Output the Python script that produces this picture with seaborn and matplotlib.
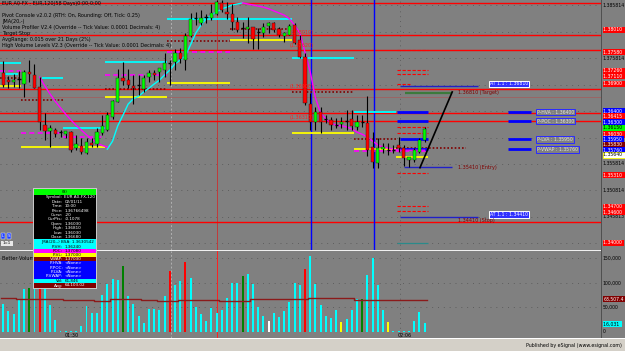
import matplotlib
matplotlib.use("Agg")
import matplotlib.pyplot as plt
from matplotlib.patches import Rectangle
from matplotlib.transforms import blended_transform_factory as blend
import seaborn as sns
import pandas as pd

plt.rcParams['font.family'] = ['Liberation Sans Narrow', 'DejaVu Sans']

# ---------------- candles (2-minute bars) ----------------
opens = [1.3719, 1.3705, 1.3702, 1.3707, 1.3698, 1.3721, 1.3715, 1.3692, 1.3620, 1.3609,
         1.3611, 1.3607, 1.3603, 1.3607, 1.3577, 1.3581, 1.3567, 1.3586, 1.3584, 1.3605,
         1.3611, 1.3636, 1.3664, 1.3709, 1.3705, 1.3694, 1.3696, 1.3688, 1.3711, 1.3719,
         1.3721, 1.3724, 1.3739, 1.3739, 1.3756, 1.3743, 1.3789, 1.3823, 1.3813, 1.3824,
         1.3823, 1.3830, 1.3851, 1.3834, 1.3830, 1.3815, 1.3804, 1.3802, 1.3806, 1.3796,
         1.3794, 1.3808, 1.3813, 1.3802, 1.3789, 1.3791, 1.3809, 1.3781, 1.3749, 1.3660,
         1.3626, 1.3645, 1.3632, 1.3630, 1.3622, 1.3622, 1.3628, 1.3632, 1.3617, 1.3626,
         1.3624, 1.3579, 1.3548, 1.3575, 1.3573, 1.3574, 1.3583, 1.3577, 1.3554, 1.3554,
         1.3569, 1.3592]
highs = [1.3741, 1.3713, 1.3717, 1.3722, 1.3724, 1.3743, 1.3736, 1.3711, 1.3643, 1.3620,
         1.3615, 1.3611, 1.3609, 1.3609, 1.3601, 1.3596, 1.3596, 1.3596, 1.3615, 1.3639,
         1.3645, 1.3668, 1.3726, 1.3739, 1.3726, 1.3715, 1.3715, 1.3715, 1.3724, 1.3724,
         1.3728, 1.3756, 1.3743, 1.3764, 1.3766, 1.3794, 1.3832, 1.3834, 1.3838, 1.3830,
         1.3849, 1.3857, 1.3857, 1.3853, 1.3849, 1.3824, 1.3815, 1.3824, 1.3806, 1.3804,
         1.3813, 1.3815, 1.3815, 1.3806, 1.3796, 1.3811, 1.3813, 1.3791, 1.3756, 1.3681,
         1.3654, 1.3654, 1.3639, 1.3636, 1.3634, 1.3636, 1.3649, 1.3649, 1.3639, 1.3639,
         1.3675, 1.3607, 1.3596, 1.3586, 1.3586, 1.3583, 1.3598, 1.3583, 1.3560, 1.3577,
         1.3596, 1.3617]
lows = [1.3692, 1.3690, 1.3692, 1.3690, 1.3673, 1.3702, 1.3690, 1.3611, 1.3592, 1.3579,
        1.3598, 1.3598, 1.3596, 1.3569, 1.3573, 1.3566, 1.3566, 1.3579, 1.3579, 1.3601,
        1.3609, 1.3632, 1.3664, 1.3696, 1.3690, 1.3660, 1.3677, 1.3683, 1.3702, 1.3705,
        1.3702, 1.3711, 1.3696, 1.3724, 1.3738, 1.3724, 1.3787, 1.3809, 1.3809, 1.3813,
        1.3819, 1.3828, 1.3834, 1.3821, 1.3800, 1.3796, 1.3785, 1.3775, 1.3764, 1.3764,
        1.3787, 1.3794, 1.3796, 1.3787, 1.3777, 1.3791, 1.3774, 1.3747, 1.3658, 1.3611,
        1.3611, 1.3605, 1.3624, 1.3611, 1.3615, 1.3615, 1.3611, 1.3611, 1.3611, 1.3617,
        1.3562, 1.3539, 1.3539, 1.3567, 1.3564, 1.3567, 1.3569, 1.3543, 1.3541, 1.3550,
        1.3567, 1.3588]
closes = [1.3696, 1.3702, 1.3705, 1.3706, 1.3721, 1.3717, 1.3690, 1.3626, 1.3609, 1.3615,
          1.3603, 1.3606, 1.3609, 1.3573, 1.3584, 1.3569, 1.3588, 1.3583, 1.3607, 1.3619,
          1.3639, 1.3666, 1.3709, 1.3704, 1.3696, 1.3690, 1.3697, 1.3709, 1.3719, 1.3715,
          1.3728, 1.3738, 1.3738, 1.3756, 1.3745, 1.3789, 1.3821, 1.3822, 1.3823, 1.3825,
          1.3832, 1.3853, 1.3838, 1.3830, 1.3815, 1.3800, 1.3803, 1.3806, 1.3783, 1.3795,
          1.3806, 1.3813, 1.3800, 1.3791, 1.3794, 1.3808, 1.3775, 1.3749, 1.3662, 1.3626,
          1.3645, 1.3626, 1.3631, 1.3620, 1.3621, 1.3626, 1.3627, 1.3619, 1.3626, 1.3625,
          1.3573, 1.3550, 1.3577, 1.3579, 1.3574, 1.3573, 1.3577, 1.3558, 1.3560, 1.3573,
          1.3592, 1.3613]

volumes = [57000, 42000, 37000, 65000, 88000, 90000, 98000, 91000, 90000, 56000,
           24000, 3000, 3000, 2000, 3000, 13000, 54000, 38000, 39000, 76000,
           98000, 109000, 107000, 134000, 73000, 58000, 33000, 18000, 47000, 46000,
           44000, 73000, 124000, 95000, 105000, 143000, 110000, 51000, 37000, 23000,
           48000, 39000, 44000, 69000, 99000, 99000, 114000, 119000, 97000, 52000,
           33000, 23000, 39000, 30000, 42000, 61000, 99000, 95000, 129000, 156000,
           98000, 56000, 32000, 29000, 44000, 20000, 27000, 44000, 67000, 67000,
           116000, 150000, 95000, 44000, 20000, 3000, 3000, 3000, 3000, 23000,
           41000, 18000]
vol_kind = ['cyan'] * 82
for k, c in [(5, 'green'), (7, 'red'), (23, 'green'), (32, 'red'), (35, 'red'), (46, 'green'),
             (51, 'white'), (58, 'red'), (65, 'yellow'), (69, 'green'), (74, 'yellow')]:
    vol_kind[k] = c
vol_palette = {'cyan': '#00ffff', 'green': '#008000', 'red': '#ff0000',
               'white': '#ffffff', 'yellow': '#ffff00'}

avg_breaks = [-0.5, 2.5, 11.5, 17.5, 20.5, 26.5, 29.5, 33.5, 41.5, 47.5, 58.5, 67.5, 81.5]
avg_levels = [69000, 68000, 65000, 63500, 66500, 65000, 63000, 65500, 64000, 67500, 68500, 66000, 66000]

# ---------------- indicator curves ----------------
cyan_idx = list(range(20, 47))
cyan_vals = [1.3575, 1.3590, 1.3619, 1.3639, 1.3660, 1.3670, 1.3675, 1.3683, 1.3690, 1.3698,
             1.3705, 1.3715, 1.3724, 1.3736, 1.3743, 1.3751, 1.3772, 1.3794, 1.3809, 1.3821,
             1.3828, 1.3834, 1.3840, 1.3843, 1.3847, 1.3849, 1.3851]
mag1_idx = list(range(7, 21))
mag1_vals = [1.3711, 1.3694, 1.3679, 1.3665, 1.3653, 1.3641, 1.3630, 1.3620, 1.3611, 1.3602,
             1.3594, 1.3587, 1.3582, 1.3579]
mag2_idx = list(range(46, 82))
mag2_vals = [1.3851, 1.3849, 1.3847, 1.3845, 1.3843, 1.3840, 1.3836, 1.3832, 1.3828, 1.3821,
             1.3809, 1.3794, 1.3758, 1.3721, 1.3672, 1.3643, 1.3632, 1.3624, 1.3620, 1.3619,
             1.3617, 1.3613, 1.3607, 1.3603, 1.3598, 1.3590, 1.3583, 1.3579, 1.3577, 1.3575,
             1.3573, 1.3573, 1.3573, 1.3573, 1.3573, 1.3573]

# ---------------- level lines ----------------
red_levels = [1.3851, 1.3790, 1.3762, 1.3689, 1.3643, 1.3628, 1.3438]
faint_levels = [1.3673]
seg_x0 = [-0.6, 0.0, 7.4, 11.5, 19.5, 31.5, 55.5, 67.5,
          -0.6, 3.5, 19.5, 31.5, 43.5, 55.5, 67.5, 75.5,
          -0.6, 3.5, 11.5, 19.5, 31.5, 67.5,
          -0.6, 3.5, 19.5, 31.5, 43.5, 55.5, 67.5, 75.5,
          75.7, 75.7, 76.3, 76.3, 97.1, 97.1, 97.1, 97.1,
          75.7, 75.7, 75.7, 75.7, 75.7, 75.7, 75.7, 75.7, 75.7, 75.7,
          77.3, 77.1, 76.3, 76.3]
seg_x1 = [3.5, 2.8, 11.5, 19.5, 31.5, 55.5, 67.5, 75.5,
          3.5, 19.5, 31.5, 43.5, 55.5, 67.5, 75.5, 81.7,
          3.5, 11.5, 19.5, 31.5, 43.5, 81.7,
          3.5, 11.5, 31.5, 43.5, 55.5, 67.5, 75.5, 89.0,
          81.7, 81.7, 81.7, 81.7, 101.5, 101.5, 101.5, 101.5,
          81.7, 81.7, 81.7, 78.2, 81.7, 81.7, 81.7, 81.7, 81.7, 81.7,
          86.3, 86.3, 91.3, 91.3]
seg_price = [1.3738, 1.3717, 1.3709, 1.3615, 1.3740, 1.3821, 1.3747, 1.3645,
             1.3694, 1.3579, 1.3673, 1.3700, 1.3781, 1.3606, 1.3575, 1.3560,
             1.3723, 1.3606, 1.3598, 1.3715, 1.3758, 1.3572,
             1.3709, 1.3668, 1.3689, 1.3779, 1.3802, 1.3683, 1.3594, 1.3577,
             1.3645, 1.3628, 1.3594, 1.3575, 1.3645, 1.3628, 1.3594, 1.3575,
             1.3762, 1.3724, 1.3717, 1.3698, 1.3617, 1.3606, 1.3530, 1.3468, 1.3458, 1.3398,
             1.3681, 1.3541, 1.3694, 1.3447]
seg_kind = ['cyan'] * 8 + ['yellow'] * 8 + ['mag'] * 6 + ['dot'] * 8 + ['blue'] * 8 + \
           ['rdash'] * 9 + ['teal'] + ['target', 'entry', 'entry', 'entry']
seg_style = {
    'cyan': dict(color='#00ffff', lw=1.3, ls='-'),
    'yellow': dict(color='#ffff00', lw=1.3, ls='-'),
    'mag': dict(color='#ff00ff', lw=1.2, ls=(0, (3, 2))),
    'dot': dict(color='#800000', lw=1.2, ls=(0, (1, 1.2))),
    'blue': dict(color='#0000ff', lw=2.0, ls='-'),
    'rdash': dict(color='#ff0000', lw=0.8, ls=(0, (3, 1.5))),
    'teal': dict(color='#2a8a8a', lw=0.9, ls='-'),
    'target': dict(color='#3c7a3c', lw=1.6, ls='-'),
    'entry': dict(color='#2020c8', lw=1.0, ls='-'),
}

grid_prices = [1.3847, 1.3797, 1.3747, 1.3697, 1.3647, 1.3597, 1.3547, 1.3497, 1.3447, 1.3397]
axis_label_prices = [1.3847, 1.3747, 1.3547, 1.3497, 1.3447]
axis_label_texts = ['1.385814', '1.375814', '1.355814', '1.350814', '1.345813']

tag_prices = [1.3800, 1.3758, 1.3723, 1.3713, 1.3698, 1.3647, 1.3637, 1.3626, 1.3615, 1.3603,
              1.3594, 1.3583, 1.3573, 1.3564, 1.3526, 1.3466, 1.3456, 1.3398]
tag_texts = ['1.38010', '1.37580', '1.37260', '1.37110', '1.36900', '1.36400', '1.36415', '1.36300',
             '1.36150', '1.36030', '1.35950', '1.35830', '1.35760', '1.35640', '1.35310', '1.34700',
             '1.34600', '1.34000']
tag_colors = ['#ff0000', '#ff0000', '#ff0000', '#ff0000', '#ff0000', '#0000ff', '#ff0000', '#0000ff',
              '#00ff00', '#ff0000', '#0000ff', '#800000', '#0000ff', '#ffffff', '#ff0000', '#ff0000',
              '#ff0000', '#ff0000']

pv_prices = [1.3645, 1.3628, 1.3594, 1.3575]
pv_texts = ['P-HVA : 1.36400', 'P-POC : 1.36300', 'P-LVA : 1.35950', 'P-VWAP : 1.35760']
trade_prices = [1.3681, 1.3541, 1.3441]
trade_texts = ['1.36810 (Target)', '1.35410 (Entry)', '1.34410 (Stop)']
pivot_note_prices = [1.3796, 1.3770, 1.3694, 1.3634]
pivot_note_texts = ['(1.38010)', '(1.37620)', '(1.36900)', '(1.36310)']

diag_idx = [80.1, 86.3]
diag_vals = [1.3540, 1.3683]

# ---------------- figure ----------------
W, H = 625, 351
BG = '#808080'
FS = 3.5
fig = plt.figure(figsize=(W / 100, H / 100), dpi=100)
fig.patch.set_facecolor(BG)
XL, XR = -0.63, 114.9

ax = fig.add_axes([0, 1 - 250 / H, 601 / W, 250 / H])
axv = fig.add_axes([0, 1 - 338 / H, 601 / W, (338 - 251) / H])


def prect(x0, y0, x1, y1, fc, ec='none', lw=0.0, z=5):
    fig.add_artist(Rectangle((x0 / W, 1 - y1 / H), (x1 - x0) / W, (y1 - y0) / H,
                             transform=fig.transFigure, fc=fc, ec=ec, lw=lw, zorder=z))


def ptext(x, y, s, color='black', size=FS, ha='left', z=8, weight='normal'):
    fig.text(x / W, 1 - y / H, s, color=color, fontsize=size, ha=ha, va='center',
             zorder=z, fontweight=weight)


# ---- main price panel ----
ax.set_facecolor(BG)
for gp in grid_prices:
    ax.axhline(gp, color='#5e5e5e', lw=0.7, ls=(0, (1, 5)), zorder=0.5)
for lv in red_levels:
    ax.axhline(lv, color='#ff0000', lw=1.0, zorder=1)
for lv in faint_levels:
    ax.axhline(lv, color='#a06060', lw=0.6, zorder=1)
ax.axvline(32.25, color='#b0b0b0', lw=0.7, ls=(0, (2, 2)), zorder=0.6)
ax.axvline(76.3, color='#5e5e5e', lw=0.7, ls=(0, (1, 4)), zorder=0.6)
ax.axvline(41.1, color='#c03a3a', lw=0.7, zorder=0.7)
for vx in (59.2, 71.3):
    ax.axvline(vx, color='#0000ff', lw=1.0, zorder=1.2)

for x0, x1, p, k in zip(seg_x0, seg_x1, seg_price, seg_kind):
    st = seg_style[k]
    ax.hlines(p, x0, x1, colors=st['color'], lw=st['lw'], linestyles=[st['ls']], zorder=2)

sns.lineplot(x=cyan_idx, y=cyan_vals, ax=ax, color='#00ffff', lw=1.0, zorder=3)
sns.lineplot(x=mag1_idx, y=mag1_vals, ax=ax, color='#ff00ff', lw=1.0, zorder=3)
sns.lineplot(x=mag2_idx, y=mag2_vals, ax=ax, color='#ff00ff', lw=1.0, zorder=3)
sns.lineplot(x=diag_idx, y=diag_vals, ax=ax, color='black', lw=1.2, zorder=3)

for i in range(len(opens)):
    o, hi, lo, c = opens[i], highs[i], lows[i], closes[i]
    ax.vlines(i, lo, hi, color='black', lw=0.8, zorder=4)
    if abs(c - o) < 0.00015:
        ax.hlines((o + c) / 2, i - 0.32, i + 0.32, color='black', lw=1.0, zorder=5)
    else:
        col = '#00ff00' if c > o else '#ff0000'
        ax.bar(i, abs(c - o), bottom=min(o, c), width=0.62, color=col,
               edgecolor='#1a1a1a', lw=0.3, zorder=5)

ax.set_xlim(XL, XR)
ax.set_ylim(1.33847, 1.38565)
ax.set_xticks([])
ax.set_yticks([])
ax.set_xlabel('')
ax.set_ylabel('')
for s in ax.spines.values():
    s.set_visible(False)

RFS = 3.3
tr = blend(ax.transAxes, ax.transData)
for p, t in zip(axis_label_prices, axis_label_texts):
    ax.text(1.003, p, t, transform=tr, fontsize=RFS, color='black', va='center',
            ha='left', clip_on=False, zorder=20)
for p, t, c in zip(tag_prices, tag_texts, tag_colors):
    tc = 'black' if c in ('#00ff00', '#ffffff') else 'white'
    ec = '#ffff00' if c == '#ffffff' else 'none'
    ax.text(1.004, p, t + ' ', transform=tr, fontsize=RFS, color=tc, va='center', ha='left',
            clip_on=False, zorder=21,
            bbox=dict(boxstyle='square,pad=0.15', fc=c, ec=ec, lw=0.6))
for p, t in zip(pv_prices, pv_texts):
    ax.text(102.6, p, t, fontsize=3.3, color='#e0e0e0', va='center', ha='left', zorder=9,
            bbox=dict(boxstyle='square,pad=0.2', fc=BG, ec='#2a2aff', lw=0.7))
for p, t in zip([1.3698, 1.3451], ['AT 1.1 : 1.36810', 'AT 1.1 : 1.34410']):
    ax.text(93.5, p, t, fontsize=3.3, color='white', va='center', ha='left', zorder=9,
            bbox=dict(boxstyle='square,pad=0.2', fc='#3030ff', ec='white', lw=0.7))
for p, t in zip(trade_prices, trade_texts):
    ax.text(87.5, p, t, fontsize=FS, color='#800000', va='center', ha='left', zorder=9)
for p, t in zip(pivot_note_prices, pivot_note_texts):
    ax.text(55.1, p, t, fontsize=FS, color='#ff2020', va='center', ha='left', zorder=9)

# ---- volume panel ----
axv.set_facecolor(BG)
for gv in (150000, 100000, 50000):
    axv.axhline(gv, color='#5e5e5e', lw=0.7, ls=(0, (1, 5)), zorder=0.5)
vdf = pd.DataFrame({'bar': list(range(len(volumes))), 'volume': volumes, 'kind': vol_kind})
sns.barplot(data=vdf, x='bar', y='volume', hue='kind', palette=vol_palette, dodge=False,
            width=0.38, saturation=1, errorbar=None, legend=False, ax=axv, zorder=3)
sns.lineplot(x=avg_breaks, y=avg_levels, ax=axv, color='#8b1a1a', lw=1.0,
             drawstyle='steps-post', zorder=4)
axv.axvline(32.25, color='#b0b0b0', lw=0.7, ls=(0, (2, 2)), zorder=1)
axv.axvline(76.3, color='#5e5e5e', lw=0.7, ls=(0, (1, 4)), zorder=1)
axv.axvline(41.1, color='#ff2020', lw=0.7, zorder=1)
axv.set_xlim(XL, XR)
axv.set_ylim(-12245, 165306)
axv.set_xticks([])
axv.set_yticks([])
axv.set_xlabel('')
axv.set_ylabel('')
for s in axv.spines.values():
    s.set_visible(False)
trv = blend(axv.transAxes, axv.transData)
for v, t in zip([150000, 100000, 50000, 0], ['150,000', '100,000', '50,000', '0']):
    axv.text(1.003, v, t, transform=trv, fontsize=RFS, color='black', va='center',
             ha='left', clip_on=False, zorder=20)
axv.text(1.004, 67300, '63,507.4', transform=trv, fontsize=RFS, color='white', va='center',
         ha='left', clip_on=False, zorder=21,
         bbox=dict(boxstyle='square,pad=0.15', fc='#800000', ec='none'))
axv.text(1.004, 16300, '16,031 ', transform=trv, fontsize=RFS, color='black', va='center',
         ha='left', clip_on=False, zorder=21,
         bbox=dict(boxstyle='square,pad=0.15', fc='#00ffff', ec='none'))
for xi, t in zip([13.2, 77.1], ['01:30', '02:06']):
    axv.text(xi, -6500, t, fontsize=FS, color='black', ha='center', va='center', zorder=6)

# ---- frame pieces ----
prect(0, 249.5, 602, 251.0, '#f0f0f0', z=6)
prect(601, 0, 602.2, 338, '#505050', z=6)
prect(0, 338.5, 625, 351, '#d4d0c8', z=6)
prect(0, 338, 625, 339, '#ffffff', z=6)
ptext(622, 345.5, 'Published by eSignal (www.esignal.com)', size=3.4, ha='right')
ptext(2, 258, 'Better Volume', size=FS)

# header
header = [(4, 'EUR A0-FX - EUR,120(58 Days)0:00-0:00'),
          (15, 'Pivot Console v2.0.2 (RTH: On, Rounding: Off, Tick: 0.25)'),
          (21, 'JMA(20,-)'),
          (27, 'Volume Profiler V2.4 (Override -- Tick Value: 0.0001 Decimals: 4)'),
          (33, 'Target Stop'),
          (39, 'AvgRange: 0.015 over 21 Days (2%)'),
          (45, 'High Volume Levels V2.3 (Override -- Tick Value: 0.0001 Decimals: 4)')]
for y, s in header:
    ptext(2, y, s, size=FS)

# small buttons
prect(1, 233, 5, 238.5, '#2040ff', ec='white', lw=0.3, z=7)
prect(7, 233, 11, 238.5, '#2040ff', ec='white', lw=0.3, z=7)
ptext(3, 235.8, 'L', color='white', size=2.8, ha='center', z=9)
ptext(9, 235.8, 'S', color='white', size=2.8, ha='center', z=9)
prect(1, 240.5, 13, 245.5, '#e8e8e8', z=7)
ptext(7, 243, '1=1', size=2.8, ha='center', z=9)

# ---- data window ----
DFS = 3.0
prect(33, 188, 97, 288.5, '#c8c8c8', z=10)
rows = [(189, 195, '#00ff00'), (195, 239, '#000000'), (239, 245, '#00ffff'),
        (245, 249, '#00ffff'), (249, 253, '#ff00ff'), (253, 257, '#ffff00'),
        (257, 261, '#800000'), (261, 279, '#0000ff'), (279, 283, '#00ffff'),
        (283, 288, '#800000')]
for y0, y1, c in rows:
    prect(34, y0, 96, y1, c, z=11)
ptext(65, 192, '(9)', size=DFS, ha='center', z=12)
dw_labels = ['Symbol:', 'Date:', 'Time:', 'Price:', 'Cursr:', 'CurPts:', 'Open:', 'High:', 'Low:', 'Close:']
dw_values = ['EUR A0-FX,120', '02/01/11', '10:00', '1.36766498', '-20', '-0.1078',
             '1.36030', '1.36810', '1.36030', '1.36680']
for k, (lab, val) in enumerate(zip(dw_labels, dw_values)):
    yy = 197.3 + 4.4 * k
    ptext(63, yy, lab, color='white', size=DFS, ha='right', z=12)
    ptext(64.5, yy, val, color='white', size=DFS, z=12)
ptext(94, 242, 'JMA(20,-) BSA: 1.3630542', color='black', size=DFS, ha='right', z=12)
col_rows = [(247, 'P-VH:', '1.36240', 'black'), (251, 'POC:', '1.37080', 'black'),
            (255, 'P-VL:', '1.37000', 'black'), (259, 'VWAP:', '1.37030', 'white'),
            (263.2, 'P-HVA:', '<None>', 'white'), (267.6, 'P-POC:', '<None>', 'white'),
            (272, 'P-LVA:', '<None>', 'white'), (276.4, 'P-VWAP:', '<None>', 'white'),
            (281, 'Vol:', '61,846', 'black'), (285.5, 'Avg:', '64,103.02', 'white')]
for yy, lab, val, c in col_rows:
    ptext(63, yy, lab, color=c, size=DFS, ha='right', z=12)
    ptext(64.5, yy, val, color=c, size=DFS, z=12)

fig.savefig('out.png', dpi=100, facecolor=BG)
